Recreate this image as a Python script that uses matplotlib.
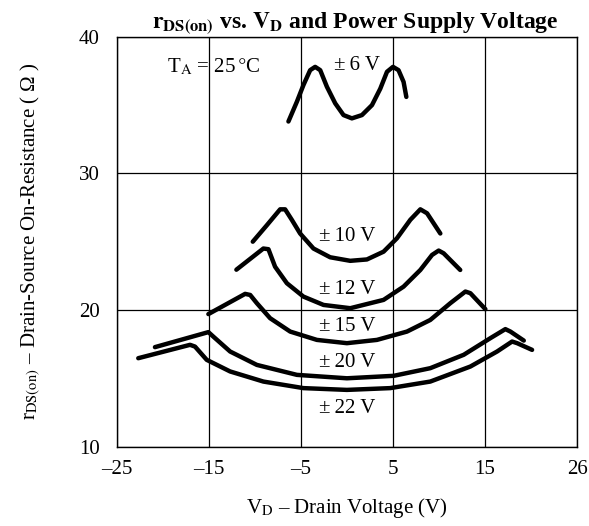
import matplotlib
matplotlib.use("Agg")
import matplotlib.pyplot as plt

plt.rcParams['font.family'] = ['Liberation Serif', 'DejaVu Serif']
plt.rcParams['mathtext.fontset'] = 'stix'

# Data (V_D in volts, r_DS(on) in ohms)
v6_x = [-6.35, -5.43, -4.72, -3.99, -3.45, -2.9, -2.17, -1.27, -0.37, 0.54, 1.63, 2.72,
        3.62, 4.35, 5.0, 5.6, 6.15, 6.45]
v6_y = [33.8, 35.25, 36.47, 37.56, 37.8, 37.56, 36.34, 35.13, 34.27, 34.03, 34.27, 35.0,
        36.2, 37.44, 37.8, 37.56, 36.7, 35.6]

v10_x = [-10.22, -8.7, -7.25, -6.71, -5.98, -5.08, -3.63, -1.82, 0.36, 2.17, 3.98, 5.43,
         6.88, 7.97, 8.7, 10.14]
v10_y = [25.0, 26.2, 27.37, 27.37, 26.6, 25.6, 24.5, 23.86, 23.6, 23.7, 24.27, 25.25,
         26.6, 27.37, 27.08, 25.6]

v12_x = [-12.0, -9.07, -8.52, -7.8, -6.52, -4.72, -2.54, 0.36, 3.98, 6.15, 7.97, 9.24,
         9.96, 10.5, 12.3]
v12_y = [22.95, 24.5, 24.45, 23.17, 21.96, 20.98, 20.37, 20.13, 20.74, 21.71, 22.93, 24.03,
         24.35, 24.15, 22.93]

v15_x = [-15.04, -11.05, -10.5, -9.78, -8.34, -6.16, -3.26, 0.0, 3.26, 6.52, 9.05, 11.23,
         12.86, 13.4, 15.03]
v15_y = [19.7, 21.18, 21.1, 20.5, 19.4, 18.42, 17.81, 17.57, 17.81, 18.42, 19.27, 20.5,
         21.35, 21.23, 20.06]

v20_x = [-20.84, -15.04, -14.5, -12.68, -9.78, -5.43, 0.0, 5.07, 9.05, 12.68, 15.58, 17.2,
         17.75, 19.2]
v20_y = [17.28, 18.38, 18.05, 16.96, 15.98, 15.25, 15.0, 15.18, 15.74, 16.72, 17.94, 18.6,
         18.42, 17.76]

v22_x = [-22.65, -17.03, -16.49, -15.22, -12.68, -9.07, -4.72, 0.0, 4.7, 9.05, 13.4, 16.3,
         17.93, 18.48, 20.1]
v22_y = [16.47, 17.45, 17.32, 16.35, 15.5, 14.76, 14.28, 14.15, 14.28, 14.76, 15.86, 16.96,
         17.69, 17.57, 17.08]

curve_labels = ['\u00b1\u20096 V', '\u00b1\u200910 V', '\u00b1\u200912 V',
                '\u00b1\u200915 V', '\u00b1\u200920 V', '\u00b1\u200922 V']
label_pos = [(1.1, 37.9), (0, 25.4), (0, 21.5), (0, 18.8), (0, 16.15), (0, 12.8)]

x_ticks = [-25, -15, -5, 5, 15, 25]
x_ticklabels = ['\u201325', '\u201315', '\u20135', '5', '15', '26']
y_ticks = [10, 20, 30, 40]

fig = plt.figure(figsize=(5.89, 5.26), dpi=100)
ax = fig.add_axes([0.198, 0.151, 0.782, 0.779])

ax.set_xlim(-25, 25)
ax.set_ylim(10, 40)
ax.set_xticks(x_ticks)
ax.set_xticklabels(x_ticklabels)
ax.set_yticks(y_ticks)
ax.tick_params(length=0, labelsize=15)
ax.tick_params(axis='y', pad=12)
ax.tick_params(axis='x', pad=10)
ax.grid(True, color='black', linewidth=0.9)
for s in ax.spines.values():
    s.set_linewidth(1.0)

for xs, ys in [(v6_x, v6_y), (v10_x, v10_y), (v12_x, v12_y),
               (v15_x, v15_y), (v20_x, v20_y), (v22_x, v22_y)]:
    ax.plot(xs, ys, color='black', linewidth=3.2,
            solid_capstyle='round', solid_joinstyle='round', zorder=3)

for lab, (lx, ly) in zip(curve_labels, label_pos):
    ax.text(lx, ly, lab, fontsize=15, ha='center', va='center', zorder=4)

ax.text(-14.5, 37.8, r'T$_{\mathrm{A}}$ = 25$\,\degree$C', fontsize=15,
        ha='center', va='center')

ax.set_title(r'$\mathbf{r_{DS(on)}}$ vs. $\mathbf{V_D}$ and Power Supply Voltage',
             fontsize=17, fontweight='bold', x=0.517, pad=3)
ax.set_xlabel('V$_{\\mathrm{D}}$ \u2013 Drain Voltage (V)', fontsize=15, labelpad=12)
ax.set_ylabel('r$_{\\mathrm{DS(on)}}$ \u2013 Drain-Source On-Resistance ( \u03a9 )',
              fontsize=15, labelpad=26)

fig.savefig('out.png', dpi=100)
